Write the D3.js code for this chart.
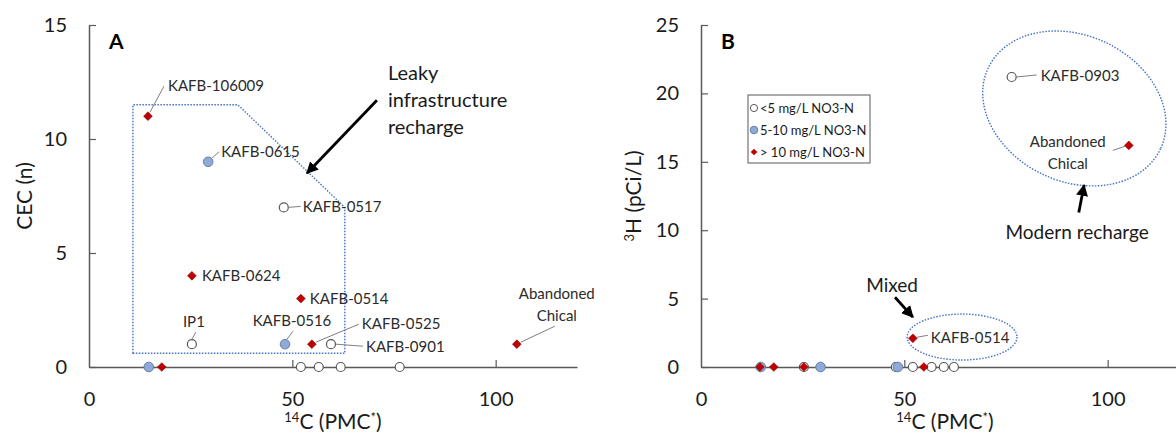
<!DOCTYPE html>
<html>
<head>
<meta charset="utf-8">
<script src="https://cdn.jsdelivr.net/npm/d3@7"></script>
<style>
  body { margin: 0; background: #fff; }
  svg text { font-family: Lato, "Open Sans", sans-serif; }
</style>
</head>
<body>
<div id="chart"></div>
<script>
// --- data ---
// panel A : 14C (PMC) vs CEC (n)
const cecOpen = [[47.9, 7], [25.3, 1], [59.5, 1], [52.1, 0], [56.5, 0], [61.9, 0], [76.4, 0]];
const cecBlue = [[29.3, 9], [48.2, 1], [14.7, 0]];
const cecRed  = [[14.5, 11], [25.3, 4], [52.1, 3], [54.8, 1], [105.2, 1], [17.9, 0]];

// panel B : 14C (PMC) vs 3H (pCi/L)
const triOpen = [[76.4, 21.2], [25.3, 0], [47.9, 0], [52.1, 0], [56.7, 0], [59.7, 0], [62.2, 0]];
const triBlue = [[14.7, 0], [29.4, 0], [48.4, 0]];
const triRed  = [[14.5, 0], [17.9, 0], [25.3, 0], [54.8, 0], [52.1, 2.1], [105.2, 16.2]];

const xTicks = [0, 50, 100];
const cecTicks = [0, 5, 10, 15];
const triTicks = [0, 5, 10, 15, 20, 25];

const legendLabels = ["<5 mg/L NO3-N", "5-10 mg/L NO3-N", "> 10 mg/L NO3-N"];

// well labels (point in data units, text offset in px)
const cecLabels = [
  { name: "KAFB-106009", x: 14.5, y: 11, dx: 20, dy: -30, lead: [[2, -4], [16, -30]] },
  { name: "KAFB-0615", x: 29.3, y: 9, dx: 13, dy: -10, lead: [[3, -3], [11, -10]] },
  { name: "KAFB-0517", x: 47.9, y: 7, dx: 19, dy: -1, lead: [[4, 0], [17, -1]] },
  { name: "KAFB-0624", x: 25.3, y: 4, dx: 10, dy: 0 },
  { name: "KAFB-0514", x: 52.1, y: 3, dx: 9, dy: 0 },
  { name: "IP1", x: 25.3, y: 1, dx: 2, dy: -22, anchor: "middle", lead: [[0, -5], [4, -12]] },
  { name: "KAFB-0516", x: 48.2, y: 1, dx: 7, dy: -23, anchor: "middle", lead: [[2, -5], [8, -13]] },
  { name: "KAFB-0525", x: 54.8, y: 1, dx: 50, dy: -20, lead: [[4, -2], [47, -20]] },
  { name: "KAFB-0901", x: 59.5, y: 1, dx: 35, dy: 3, lead: [[5, 0], [32, 2]] },
  { name: ["Abandoned", "Chical"], x: 105.2, y: 1, dx: 40, dy: -50, anchor: "middle", lead: [[4, -2], [38, -18]] }
];
const triLabels = [
  { name: "KAFB-0903", x: 76.4, y: 21.2, dx: 29, dy: -1, lead: [[5, 0], [25, -2]] },
  { name: ["Abandoned", "Chical"], x: 105.2, y: 16.2, dx: -61, dy: -4, anchor: "middle", lead: [[-4, 1], [-16, 5]] },
  { name: "KAFB-0514", x: 52.1, y: 2.1, dx: 18, dy: -1, lead: [[4, -1], [15, -3]] }
];

// outlined groups (data units)
const leakyPolygon = [[10.8, 0.6], [10.8, 11.5], [36.6, 11.5], [62.9, 7.0], [62.9, 0.6]];
const modernEllipse = { cx: 91.8, cy: 18.9, rx: 23.4, ry: 5.34, rot: 25 };
const mixedEllipse  = { cx: 64.2, cy: 2.19, rx: 13.5, ry: 1.68, rot: 0 };

const width = 1176, height = 442;

const svg = d3.select("#chart").append("svg")
  .attr("width", width)
  .attr("height", height);

// arrow head
svg.append("defs").append("marker")
  .attr("id", "arrow")
  .attr("viewBox", "0 0 10 10")
  .attr("refX", 9).attr("refY", 5)
  .attr("markerUnits", "userSpaceOnUse")
  .attr("markerWidth", 12).attr("markerHeight", 12)
  .attr("orient", "auto")
  .append("path")
  .attr("d", "M0,0 L10,5 L0,10 z")
  .attr("fill", "#000");

const grey = "#595959";

function makePanel(opt) {
  const x = d3.scaleLinear().domain([0, 120]).range([opt.left, opt.left + 488]);
  const y = d3.scaleLinear().domain([0, opt.yMax]).range([367, 25]);
  const g = svg.append("g");

  // axes, ticks inside like the original
  const xAxis = g.append("g")
    .attr("transform", `translate(0,${y(0)})`)
    .call(d3.axisBottom(x).tickValues(xTicks).tickSizeInner(-7).tickSizeOuter(0).tickPadding(25));
  const yAxis = g.append("g")
    .attr("transform", `translate(${x(0)},0)`)
    .call(d3.axisLeft(y).tickValues(opt.ticks).tickSizeInner(-7).tickSizeOuter(0).tickPadding(22));
  [xAxis, yAxis].forEach(a => {
    a.select(".domain").attr("stroke", grey).attr("stroke-width", 1.5);
    a.selectAll(".tick line").attr("stroke", grey).attr("stroke-width", 1.2);
    a.selectAll(".tick text").attr("font-size", 20).attr("fill", "#1a1a1a")
      .style("font-family", "Lato, sans-serif");
  });
  xAxis.selectAll(".tick").filter(d => d === 0).select("line").remove();

  // axis titles
  const xt = g.append("text")
    .attr("x", opt.left + 244).attr("y", 429)
    .attr("text-anchor", "middle").attr("font-size", 21).attr("fill", "#1a1a1a");
  xt.append("tspan").text("14").attr("font-size", 13).attr("dy", -7);
  xt.append("tspan").text("C (PMC").attr("dy", 7);
  xt.append("tspan").text("*").attr("font-size", 13).attr("dy", -7);
  xt.append("tspan").text(")").attr("dy", 7);

  const yt = g.append("text")
    .attr("transform", `translate(${opt.titleX},196) rotate(-90)`)
    .attr("text-anchor", "middle").attr("font-size", 21).attr("fill", "#1a1a1a");
  opt.yTitle(yt);

  // panel letter
  g.append("text").attr("x", opt.left + 20).attr("y", 49)
    .attr("font-size", 21).attr("font-weight", "bold").text(opt.letter);

  return { g, x, y };
}

function drawPoints(p, open, blue, red) {
  p.g.selectAll(".open").data(open).enter().append("circle")
    .attr("cx", d => p.x(d[0])).attr("cy", d => p.y(d[1])).attr("r", 4.5)
    .attr("fill", "#fff").attr("stroke", grey).attr("stroke-width", 1.2);
  p.g.selectAll(".blue").data(blue).enter().append("circle")
    .attr("cx", d => p.x(d[0])).attr("cy", d => p.y(d[1])).attr("r", 4.8)
    .attr("fill", "#8eaadb").attr("stroke", "#6b7f9e").attr("stroke-width", 1);
  p.g.selectAll(".red").data(red).enter().append("path")
    .attr("d", d3.symbol(d3.symbolSquare, 38))
    .attr("transform", d => `translate(${p.x(d[0])},${p.y(d[1])}) rotate(45)`)
    .attr("fill", "#c00000").attr("stroke", "#8a0000").attr("stroke-width", 0.6);
}

function drawLabels(p, labels) {
  labels.forEach(l => {
    const px = p.x(l.x), py = p.y(l.y);
    if (l.lead) {
      p.g.append("line")
        .attr("x1", px + l.lead[0][0]).attr("y1", py + l.lead[0][1])
        .attr("x2", px + l.lead[1][0]).attr("y2", py + l.lead[1][1])
        .attr("stroke", "#7f7f7f").attr("stroke-width", 1);
    }
    const lines = Array.isArray(l.name) ? l.name : [l.name];
    lines.forEach((t, i) => {
      p.g.append("text")
        .attr("x", px + l.dx).attr("y", py + l.dy + i * 22)
        .attr("dy", "0.35em")
        .attr("text-anchor", l.anchor || "start")
        .attr("font-size", 15).attr("fill", "#2b2b2b")
        .text(t);
    });
  });
}

function drawEllipse(p, e) {
  p.g.append("ellipse")
    .attr("cx", 0).attr("cy", 0)
    .attr("rx", p.x(e.rx) - p.x(0)).attr("ry", p.y(0) - p.y(e.ry))
    .attr("transform", `translate(${p.x(e.cx)},${p.y(e.cy)}) rotate(${e.rot})`)
    .attr("fill", "none").attr("stroke", "#4472c4")
    .attr("stroke-width", 1.4).attr("stroke-dasharray", "1.5,1.5");
}

function arrow(p, from, to) {
  p.g.append("line")
    .attr("x1", p.x(from[0])).attr("y1", p.y(from[1]))
    .attr("x2", p.x(to[0])).attr("y2", p.y(to[1]))
    .attr("stroke", "#000").attr("stroke-width", 2.8)
    .attr("marker-end", "url(#arrow)");
}

// ---------- Panel A ----------
const pA = makePanel({
  left: 89, yMax: 15, ticks: cecTicks, letter: "A", titleX: 32,
  yTitle: t => t.text("CEC (n)")
});

pA.g.append("path")
  .attr("d", d3.line().x(d => pA.x(d[0])).y(d => pA.y(d[1]))(leakyPolygon) + "Z")
  .attr("fill", "none").attr("stroke", "#4472c4")
  .attr("stroke-width", 1.4).attr("stroke-dasharray", "1.5,1.5");

drawPoints(pA, cecOpen, cecBlue, cecRed);
drawLabels(pA, cecLabels);

arrow(pA, [70.8, 11.7], [53.6, 8.5]);
["Leaky", "infrastructure", "recharge"].forEach((t, i) => {
  pA.g.append("text")
    .attr("x", pA.x(73.5)).attr("y", 73 + i * 27).attr("dy", "0.35em")
    .attr("font-size", 20).attr("fill", "#1a1a1a").text(t);
});

// ---------- Panel B ----------
const pB = makePanel({
  left: 701, yMax: 25, ticks: triTicks, letter: "B", titleX: 641,
  yTitle: t => {
    t.append("tspan").text("3").attr("font-size", 13).attr("dy", -7);
    t.append("tspan").text("H (pCi/L)").attr("dy", 7);
  }
});

drawEllipse(pB, modernEllipse);
drawEllipse(pB, mixedEllipse);
drawPoints(pB, triOpen, triBlue, triRed);
drawLabels(pB, triLabels);

arrow(pB, [92.9, 11.3], [94.2, 13.3]);
pB.g.append("text").attr("x", pB.x(92.5)).attr("y", pB.y(9.87)).attr("dy", "0.35em")
  .attr("text-anchor", "middle").attr("font-size", 19).attr("fill", "#1a1a1a").text("Modern recharge");

arrow(pB, [47.7, 5.1], [52.1, 3.65]);
pB.g.append("text").attr("x", pB.x(47.0)).attr("y", pB.y(6.0)).attr("dy", "0.35em")
  .attr("text-anchor", "middle").attr("font-size", 19).attr("fill", "#1a1a1a").text("Mixed");

// legend
const lg = pB.g.append("g").attr("transform", "translate(748,95)");
lg.append("rect").attr("width", 122).attr("height", 68)
  .attr("fill", "#fff").attr("stroke", grey).attr("stroke-width", 1);
legendLabels.forEach((t, i) => {
  const cy = 13 + i * 22;
  if (i === 0) {
    lg.append("circle").attr("cx", 6).attr("cy", cy).attr("r", 3.6)
      .attr("fill", "#fff").attr("stroke", grey).attr("stroke-width", 1);
  } else if (i === 1) {
    lg.append("circle").attr("cx", 6).attr("cy", cy).attr("r", 3.8)
      .attr("fill", "#8eaadb").attr("stroke", "#6b7f9e").attr("stroke-width", 1);
  } else {
    lg.append("path").attr("d", d3.symbol(d3.symbolSquare, 22))
      .attr("transform", `translate(6,${cy}) rotate(45)`).attr("fill", "#c00000");
  }
  lg.append("text").attr("x", 12).attr("y", cy).attr("dy", "0.35em")
    .attr("font-size", 13).attr("fill", "#1a1a1a").text(t);
});
</script>
</body>
</html>
